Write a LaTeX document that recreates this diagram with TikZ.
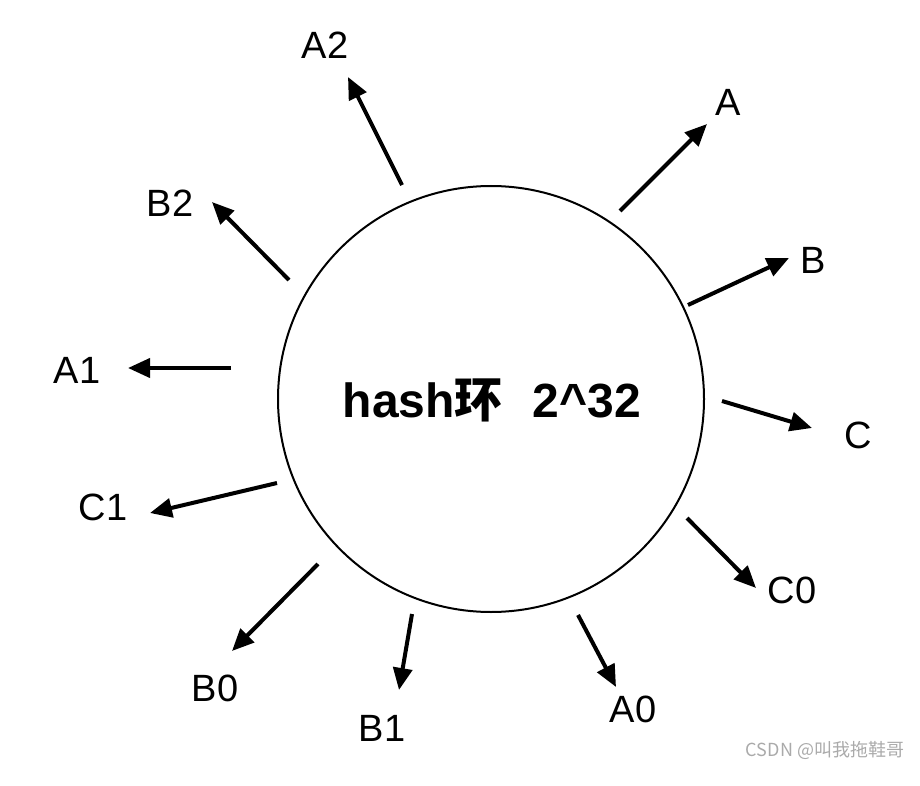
\documentclass[tikz,border=0pt]{standalone}
\usepackage{fontspec}
\setmainfont{Liberation Sans}
\newfontfamily\cjk{Noto Sans CJK SC}
\usetikzlibrary{arrows.meta}
\definecolor{markgray}{RGB}{170,170,170}
\tikzset{
  ptr/.style={line width=4pt,-{Triangle[length=22pt,width=19pt]}},
  lbl/.style={font=\fontsize{38}{38}\selectfont,inner sep=0pt},
}

\begin{document}
\begin{tikzpicture}[x=1pt,y=-1pt]
    \useasboundingbox (0,0) rectangle (920,786);
    \node[circle,draw,line width=2pt,minimum size=426pt,inner sep=0pt] (ring) at (491,399) {};
    \node[font=\fontsize{48}{48}\selectfont\bfseries,anchor=base] (title) at (492,417)
        {hash{\cjk 环}\hspace{30pt}2\textasciicircum 32};

    \coordinate (a2t) at (402,185); \coordinate (a2h) at (348,77);
    \coordinate (b2t) at (289,280); \coordinate (b2h) at (212,202);
    \coordinate (a1t) at (231,368); \coordinate (a1h) at (128,368);
    \coordinate (at)  at (620,211); \coordinate (ah)  at (707,124);
    \coordinate (bt)  at (688,305); \coordinate (bh)  at (789,258);
    \coordinate (ct)  at (722,401); \coordinate (ch)  at (812,428);
    \coordinate (c1t) at (277,483); \coordinate (c1h) at (150,513);
    \coordinate (b0t) at (318,564); \coordinate (b0h) at (232,651);
    \coordinate (b1t) at (412,614); \coordinate (b1h) at (399,690);
    \coordinate (c0t) at (687,518); \coordinate (c0h) at (756,588);
    \coordinate (a0t) at (578,615); \coordinate (a0h) at (616,687);

    \node[lbl] (a2) at (325,45)  {A2};
    \node[lbl] (b2) at (170,203) {B2};
    \node[lbl] (a1) at (77,370)  {A1};
    \node[lbl] (a)  at (728,102) {A};
    \node[lbl] (b)  at (813,260) {B};
    \node[lbl] (c)  at (858,435) {C};
    \node[lbl] (c1) at (103,507) {C1};
    \node[lbl] (b0) at (215,688) {B0};
    \node[lbl] (b1) at (382,728) {B1};
    \node[lbl] (c0) at (792,590) {C0};
    \node[lbl] (a0) at (633,709) {A0};

    \draw[ptr] (a2t) -- (a2h);
    \draw[ptr] (b2t) -- (b2h);
    \draw[ptr] (a1t) -- (a1h);
    \draw[ptr] (at) -- (ah);
    \draw[ptr] (bt) -- (bh);
    \draw[ptr] (ct) -- (ch);
    \draw[ptr] (c1t) -- (c1h);
    \draw[ptr] (b0t) -- (b0h);
    \draw[ptr] (b1t) -- (b1h);
    \draw[ptr] (c0t) -- (c0h);
    \draw[ptr] (a0t) -- (a0h);

    \node[font=\cjk\fontsize{18}{18}\selectfont,text=markgray,anchor=base] (mark) at (825,756) {CSDN @叫我拖鞋哥};
\end{tikzpicture}
\end{document}
